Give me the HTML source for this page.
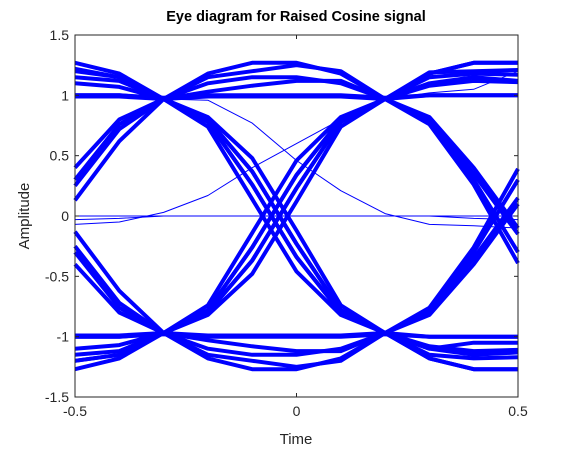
<!DOCTYPE html>
<html><head><meta charset="utf-8"><style>
body{margin:0;background:#fff;}
svg text{font-family:"Liberation Sans",Arial,sans-serif;}
</style></head><body>
<svg id="chart" width="575" height="450" xmlns="http://www.w3.org/2000/svg">
<rect x="0" y="0" width="575" height="450" fill="#fff"/>
<text x="296" y="21" font-size="14.5" font-weight="bold" text-anchor="middle" fill="#000">Eye diagram for Raised Cosine signal</text>
<g id="traces"></g>
<rect x="75" y="35" width="443" height="362" fill="none" stroke="#262626" stroke-width="1"/>
<g id="ticks"></g>
<text x="296" y="444" font-size="15" text-anchor="middle" fill="#262626">Time</text>
<text transform="translate(29,216) rotate(-90)" font-size="15" text-anchor="middle" fill="#262626">Amplitude</text>
</svg>
<script>
const times = [-0.5,-0.4,-0.3,-0.2,-0.1,0,0.1,0.2,0.3,0.4,0.5];
const xTicks = [-0.5,0,0.5];
const xTickLabels = ["-0.5","0","0.5"];
const yTicks = [1.5,1,0.5,0,-0.5,-1,-1.5];
const yTickLabels = ["1.5","1","0.5","0","-0.5","-1","-1.5"];
const thickTraces = [
 [1,1,0.98,1,1,1,1,0.98,1,1,1],
 [0.99,0.99,0.97,0.99,0.99,0.99,0.99,0.97,0.8,0.35,-0.15],
 [1.27,1.18,0.97,1.18,1.27,1.27,1.18,0.97,1.18,1.27,1.27],
 [1.15,1.12,0.97,1.1,1.15,1.15,1.1,0.97,1.15,1.18,1.17],
 [1.1,1.07,0.97,1.03,1.08,1.12,1.12,0.97,1.08,1.12,1.11],
 [1.22,1.15,0.97,1.15,1.2,1.25,1.2,0.97,1.19,1.2,1.21],
 [0.13,0.62,0.97,0.74,0.14,-0.46,-0.82,-0.97,-0.76,-0.26,0.39],
 [0.25,0.72,0.97,0.78,0.26,-0.34,-0.8,-0.97,-0.78,-0.3,0.3],
 [0.3,0.76,0.97,0.8,0.37,-0.23,-0.78,-0.97,-0.8,-0.35,0.15],
 [0.4,0.8,0.97,0.82,0.48,-0.12,-0.74,-0.97,-1,-1,-1],
 [-0.13,-0.62,-0.97,-0.74,-0.14,0.46,0.82,0.97,0.76,0.26,-0.39],
 [-0.25,-0.72,-0.97,-0.78,-0.26,0.34,0.8,0.97,0.78,0.3,-0.3],
 [-0.3,-0.76,-0.97,-0.8,-0.37,0.23,0.78,0.97,0.82,0.4,-0.1],
 [-0.4,-0.8,-0.97,-0.82,-0.48,0.12,0.74,0.97,1,1,1],
 [1,1,0.97,0.78,0.26,-0.34,-0.8,-0.97,-1.1,-1.15,-1.13],
 [1.2,1.15,0.97,0.8,0.37,-0.23,-0.78,-0.97,-1.18,-1.27,-1.27],
 [-1,-1,-0.98,-1,-1,-1,-1,-0.98,-1,-1,-1],
 [-0.99,-0.99,-0.97,-0.99,-0.99,-0.99,-0.99,-0.97,-0.82,-0.4,0.1],
 [-1.27,-1.18,-0.97,-1.18,-1.27,-1.27,-1.18,-0.97,-1.18,-1.27,-1.27],
 [-1.15,-1.12,-0.97,-1.1,-1.15,-1.15,-1.1,-0.97,-1.15,-1.18,-1.17],
 [-1.1,-1.07,-0.97,-1.03,-1.08,-1.12,-1.12,-0.97,-1.08,-1.12,-1.11],
 [-1.2,-1.15,-0.97,-1.15,-1.2,-1.25,-1.2,-0.97,-1.1,-1.05,-1.05],
 [-1,-1,-0.97,-0.78,-0.26,0.34,0.8,0.97,1.1,1.15,1.12],
 [-1.2,-1.15,-0.97,-0.8,-0.37,0.23,0.78,0.97,1.18,1.27,1.27]
];
const thinTraces = [
 [-0.07,-0.05,0.03,0.17,0.4,0.6,0.8,0.97,1.02,1.05,1.2],
 [1.22,1.15,0.97,0.96,0.77,0.46,0.21,0.02,-0.07,-0.08,-0.1],
 [-0.03,-0.02,0,0,0,0,0,0,0,-0.02,-0.03],
 [0,0,0,0,0,0,0,0,0,0,0]
];
const X0=75,X1=518,Y0=397,Y1=35;
function xs(t){return X0+(t+0.5)/1.0*(X1-X0);}
function ys(v){return Y0-(v+1.5)/3.0*(Y0-Y1);}
const NS="http://www.w3.org/2000/svg";
const g=document.getElementById('traces');
function draw(arr,w,name){
 arr.forEach((tr,i)=>{
  const p=document.createElementNS(NS,'polyline');
  p.setAttribute('points',tr.map((v,k)=>xs(times[k]).toFixed(1)+','+ys(v).toFixed(1)).join(' '));
  p.setAttribute('fill','none');p.setAttribute('stroke','#0000ff');
  p.setAttribute('stroke-width',w);p.setAttribute('stroke-linejoin','round');
  
  
  g.appendChild(p);
 });
}
draw(thickTraces,4,'thick-trace');
draw(thinTraces,1,'thin-trace');
const tg=document.getElementById('ticks');
xTicks.forEach((t,i)=>{
 const x=xs(t);
 [[Y0,Y0-4],[Y1,Y1+4]].forEach(([a,b])=>{
  const l=document.createElementNS(NS,'line');
  l.setAttribute('x1',x);l.setAttribute('x2',x);l.setAttribute('y1',a);l.setAttribute('y2',b);
  l.setAttribute('stroke','#262626');
  
  
  tg.appendChild(l);
 });
 const tx=document.createElementNS(NS,'text');
 tx.setAttribute('x',x);tx.setAttribute('y',Y0+19);tx.setAttribute('font-size','14');
 tx.setAttribute('text-anchor','middle');tx.setAttribute('fill','#262626');
 tx.textContent=xTickLabels[i];
 
 
 tg.appendChild(tx);
});
yTicks.forEach((v,i)=>{
 const y=ys(v);
 [[X0,X0+4],[X1,X1-4]].forEach(([a,b])=>{
  const l=document.createElementNS(NS,'line');
  l.setAttribute('x1',a);l.setAttribute('x2',b);l.setAttribute('y1',y);l.setAttribute('y2',y);
  l.setAttribute('stroke','#262626');
  
  
  tg.appendChild(l);
 });
 const tx=document.createElementNS(NS,'text');
 tx.setAttribute('x',X0-6);tx.setAttribute('y',y+5);tx.setAttribute('font-size','14');
 tx.setAttribute('text-anchor','end');tx.setAttribute('fill','#262626');
 tx.textContent=yTickLabels[i];
 
 
 tg.appendChild(tx);
});
</script>
</body></html>
